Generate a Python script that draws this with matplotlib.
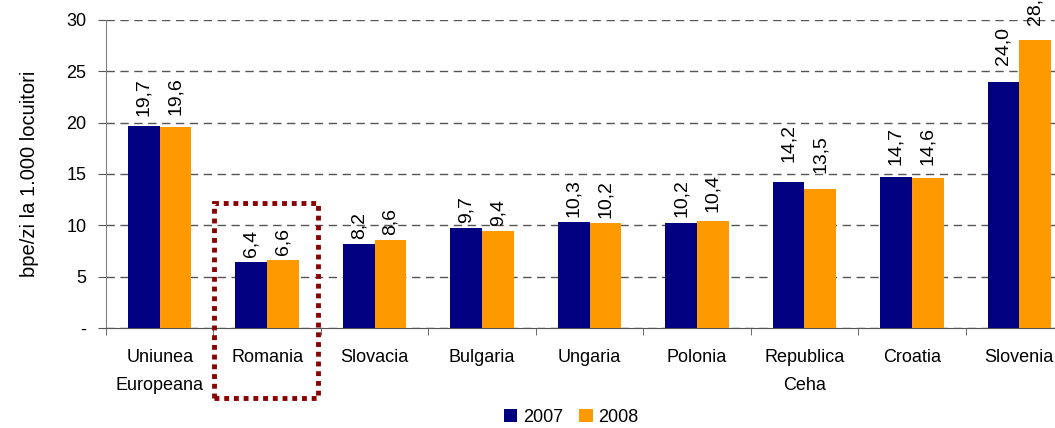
import matplotlib
matplotlib.use("Agg")
import matplotlib.pyplot as plt
from matplotlib.patches import Rectangle
import numpy as np

plt.rcParams['font.family'] = ['Liberation Sans', 'DejaVu Sans']

categories = ["Uniunea\nEuropeana", "Romania", "Slovacia", "Bulgaria", "Ungaria",
              "Polonia", "Republica\nCeha", "Croatia", "Slovenia"]
v2007 = [19.7, 6.4, 8.2, 9.7, 10.3, 10.2, 14.2, 14.7, 24.0]
v2008 = [19.6, 6.6, 8.6, 9.4, 10.2, 10.4, 13.5, 14.6, 28.1]
series_names = ["2007", "2008"]
yticks = [0, 5, 10, 15, 20, 25, 30]
ytick_labels = ["-", "5", "10", "15", "20", "25", "30"]

# label gaps above bars (pixels), as placed in the original
gap2007 = [10, 5, 5, 5, 5, 6, 20, 12, 17]
gap2008 = [12, 5, 5, 5, 5, 9, 16, 13, 15]

c2007 = "#000080"
c2008 = "#FF9900"

W, H = 1055, 428
fig = plt.figure(figsize=(W / 100, H / 100), dpi=100)
ax = fig.add_axes([106 / W, (H - 328) / H, 967 / W, 308 / H])

x = np.arange(len(categories))
bw = 0.295
b1 = ax.bar(x - bw / 2, v2007, bw, color=c2007, label=series_names[0], zorder=3)
b2 = ax.bar(x + bw / 2, v2008, bw, color=c2008, label=series_names[1], zorder=3)

def fmt(v):
    return f"{v:.1f}".replace(".", ",")

for bars, vals, gaps in ((b1, v2007, gap2007), (b2, v2008, gap2008)):
    for r, v, g in zip(bars, vals, gaps):
        ax.annotate(fmt(v), (r.get_x() + r.get_width() / 2, v), xytext=(0, g * 0.72),
                    textcoords="offset points", ha="center", va="bottom",
                    rotation=90, fontsize=14, color="black",
                    annotation_clip=False)

ax.set_xlim(-0.5, len(categories) - 0.5)
ax.set_ylim(0, 30)
ax.set_yticks(yticks)
ax.set_yticklabels(ytick_labels, fontsize=13)
ax.yaxis.grid(True, linestyle=(0, (6, 4)), color="#555555", linewidth=1, zorder=0)
ax.set_axisbelow(True)

ax.set_xticks(x)
ax.set_xticklabels(categories, fontsize=13, linespacing=1.85)
ax.tick_params(axis="x", which="major", length=0, pad=15)
ax.set_xticks(np.arange(len(categories) + 1) - 0.5, minor=True)
ax.tick_params(axis="x", which="minor", length=5, color="#555555", direction="out")
ax.tick_params(axis="y", length=6, color="#555555", direction="out", pad=8)

for s in ("top", "right"):
    ax.spines[s].set_visible(False)
ax.spines["left"].set_color("#808080")
ax.spines["bottom"].set_color("#555555")

ax.set_ylabel("bpe/zi la 1.000 locuitori", fontsize=14.5)
ax.yaxis.set_label_coords((39 - 106) / 967, 0.5)

# highlight box around Romania
rect = Rectangle((0.505, -6.8), 0.97, 18.95, fill=False, edgecolor="#8B0000",
                 linestyle=(0, (1, 1)), linewidth=3.5, clip_on=False, zorder=5)
ax.add_patch(rect)

fig.legend(handles=[b1, b2], labels=series_names, loc="center",
           bbox_to_anchor=(571 / W, 1 - 417 / H), ncol=2, frameon=False,
           fontsize=13, handlelength=0.75, handleheight=0.75, handletextpad=0.3,
           columnspacing=0.9)

fig.savefig("out.png", dpi=100)
